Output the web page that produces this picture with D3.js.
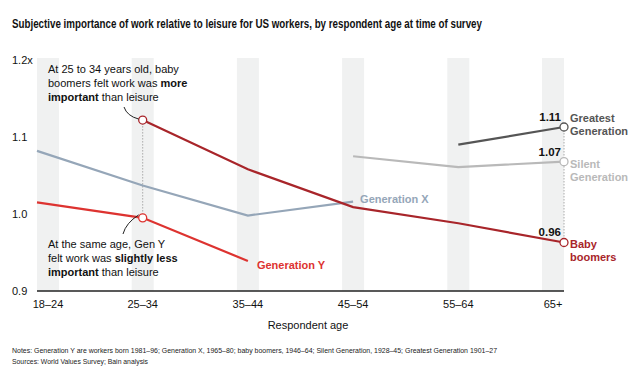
<!DOCTYPE html>
<html><head><meta charset="utf-8">
<script src="https://cdn.jsdelivr.net/npm/d3@7"></script>
<style>
body{margin:0;background:#fff;}
text{font-family:"Liberation Sans",Arial,Helvetica,sans-serif;}
</style></head>
<body><svg id="c" width="643" height="367"></svg>
<script>
const ageGroups = ["18–24","25–34","35–44","45–54","55–64","65+"];
const ageMid = [21, 30, 40, 50, 60, 69];
const yTicks = [0.9, 1.0, 1.1, 1.2];
const yTickLabels = ["0.9", "1.0", "1.1", "1.2x"];
const genY = [1.015, 0.995, 0.939, null, null, null];
const genX = [1.082, 1.037, 0.998, 1.016, null, null];
const babyBoomers = [null, 1.122, 1.058, 1.009, 0.988, 0.963];
const silentGen = [null, null, null, 1.075, 1.061, 1.068];
const greatestGen = [null, null, null, null, 1.090, 1.113];

const svg = d3.select("#c");
const bandW = 22;
const x = d3.scaleLinear().domain([21, 69]).range([48, 553]);
const y = d3.scaleLinear().domain([0.9, 1.2]).range([291, 60]);

// title
svg.append("text").attr("x", 12).attr("y", 28).attr("font-size", 13).attr("font-weight", "bold")
  .attr("fill", "#111").attr("textLength", 470).attr("lengthAdjust", "spacingAndGlyphs")
  .text("Subjective importance of work relative to leisure for US workers, by respondent age at time of survey");

// bands
svg.selectAll("rect.band").data(ageMid).enter().append("rect")
  .attr("x", d => x(d) - bandW/2).attr("width", bandW)
  .attr("y", y(1.2) - 2).attr("height", y(0.9) - y(1.2) + 2)
  .attr("fill", "#f0f1f1");

// y tick labels
svg.selectAll("text.yt").data(yTicks).enter().append("text")
  .attr("x", 12).attr("y", d => y(d) + 4).attr("font-size", 11).attr("fill", "#111")
  .text((d, i) => yTickLabels[i]);

// x axis
svg.append("line").attr("x1", x(21) - bandW/2).attr("x2", x(69) + bandW/2)
  .attr("y1", y(0.9)).attr("y2", y(0.9)).attr("stroke", "#222").attr("stroke-width", 1.6);
svg.selectAll("text.xt").data(ageGroups).enter().append("text")
  .attr("x", (d, i) => x(ageMid[i])).attr("y", y(0.9) + 17).attr("text-anchor", "middle")
  .attr("font-size", 11).attr("fill", "#111").text(d => d);
svg.append("text").attr("x", 308).attr("y", 329).attr("text-anchor", "middle")
  .attr("font-size", 11).attr("fill", "#111").text("Respondent age");

function px(i) {
  if (i === 0) return x(ageMid[i]) - bandW/2;
  if (i === ageMid.length - 1) return x(ageMid[i]) + bandW/2;
  return x(ageMid[i]);
}

// dotted guides
svg.append("line").attr("x1", px(1)).attr("x2", px(1)).attr("y1", y(babyBoomers[1])).attr("y2", y(genY[1]))
  .attr("stroke", "#aaa").attr("stroke-width", 1).attr("stroke-dasharray", "1.5,1.5");
svg.append("line").attr("x1", px(5)).attr("x2", px(5)).attr("y1", y(greatestGen[5])).attr("y2", y(babyBoomers[5]))
  .attr("stroke", "#aaa").attr("stroke-width", 1).attr("stroke-dasharray", "1.5,1.5");

const series = [
  {vals: genX, color: "#95a6b8"},
  {vals: silentGen, color: "#b9b9b9"},
  {vals: greatestGen, color: "#555555"},
  {vals: genY, color: "#dd3330"},
  {vals: babyBoomers, color: "#a8252a"}
];
const line = d3.line().defined(d => d.v != null).x(d => px(d.i)).y(d => y(d.v));
series.forEach(s => {
  svg.append("path").datum(s.vals.map((v, i) => ({v, i})))
    .attr("d", line).attr("fill", "none").attr("stroke", s.color).attr("stroke-width", 2.2);
});

const circles = [
  {i: 1, v: babyBoomers[1], c: "#a8252a"},
  {i: 1, v: genY[1], c: "#dd3330"},
  {i: 5, v: greatestGen[5], c: "#555555"},
  {i: 5, v: silentGen[5], c: "#b9b9b9"},
  {i: 5, v: babyBoomers[5], c: "#a8252a"}
];
svg.selectAll("circle.pt").data(circles).enter().append("circle")
  .attr("cx", d => px(d.i)).attr("cy", d => y(d.v)).attr("r", 4)
  .attr("fill", "#fff").attr("stroke", d => d.c).attr("stroke-width", 1.3);

[[greatestGen[5], "1.11"], [silentGen[5], "1.07"], [babyBoomers[5], "0.96"]].forEach(([v, t]) => {
  svg.append("text").attr("x", px(5) - 3).attr("y", y(v) - 6).attr("text-anchor", "end")
    .attr("font-size", 11.5).attr("font-weight", "bold").attr("fill", "#111").text(t);
});

function multi(xx, yy, lines, color) {
  const t = svg.append("text").attr("x", xx).attr("y", yy).attr("font-size", 11)
    .attr("font-weight", "bold").attr("fill", color);
  lines.forEach((l, k) => t.append("tspan").attr("x", xx).attr("dy", k === 0 ? 0 : 13).text(l));
}
multi(px(5) + 6, y(greatestGen[5]) - 5, ["Greatest", "Generation"], "#555555");
multi(px(5) + 6, y(silentGen[5]) + 6, ["Silent", "Generation"], "#b9b9b9");
multi(px(5) + 6, y(babyBoomers[5]) + 6, ["Baby", "boomers"], "#a8252a");
multi(x(ageMid[3]) + 7, y(genX[3]) + 1, ["Generation X"], "#95a6b8");
multi(x(ageMid[2]) + 9, y(genY[2]) + 8, ["Generation Y"], "#dd3330");

function annot(xx, yy, parts) {
  const t = svg.append("text").attr("font-size", 11).attr("fill", "#111");
  parts.forEach((line, k) => {
    line.forEach((seg, j) => {
      const ts = t.append("tspan").text(seg[0]);
      if (j === 0) ts.attr("x", xx).attr("y", yy + k * 14);
      if (seg[1]) ts.attr("font-weight", "bold");
    });
  });
}
annot(48, 73, [
  [["At 25 to 34 years old, baby"]],
  [["boomers felt work was "], ["more", true]],
  [["important", true], [" than leisure"]]
]);
annot(48, 248, [
  [["At the same age, Gen Y"]],
  [["felt work was "], ["slightly less", true]],
  [["important", true], [" than leisure"]]
]);
svg.append("path").attr("d", `M124,107 Q127,116 ${px(1) - 4},${y(babyBoomers[1]) - 1}`)
  .attr("fill", "none").attr("stroke", "#222").attr("stroke-width", 1);
svg.append("path").attr("d", `M123,234 Q126,223 ${px(1) - 4},${y(genY[1]) - 3}`)
  .attr("fill", "none").attr("stroke", "#222").attr("stroke-width", 1);

svg.append("text").attr("x", 12).attr("y", 353).attr("font-size", 7.8).attr("fill", "#222")
  .attr("textLength", 485).attr("lengthAdjust", "spacingAndGlyphs")
  .text("Notes: Generation Y are workers born 1981–96; Generation X, 1965–80; baby boomers, 1946–64; Silent Generation, 1928–45; Greatest Generation 1901–27");
svg.append("text").attr("x", 12).attr("y", 364).attr("font-size", 7.8).attr("fill", "#222")
  .attr("textLength", 136).attr("lengthAdjust", "spacingAndGlyphs")
  .text("Sources: World Values Survey; Bain analysis");
</script></body></html>
